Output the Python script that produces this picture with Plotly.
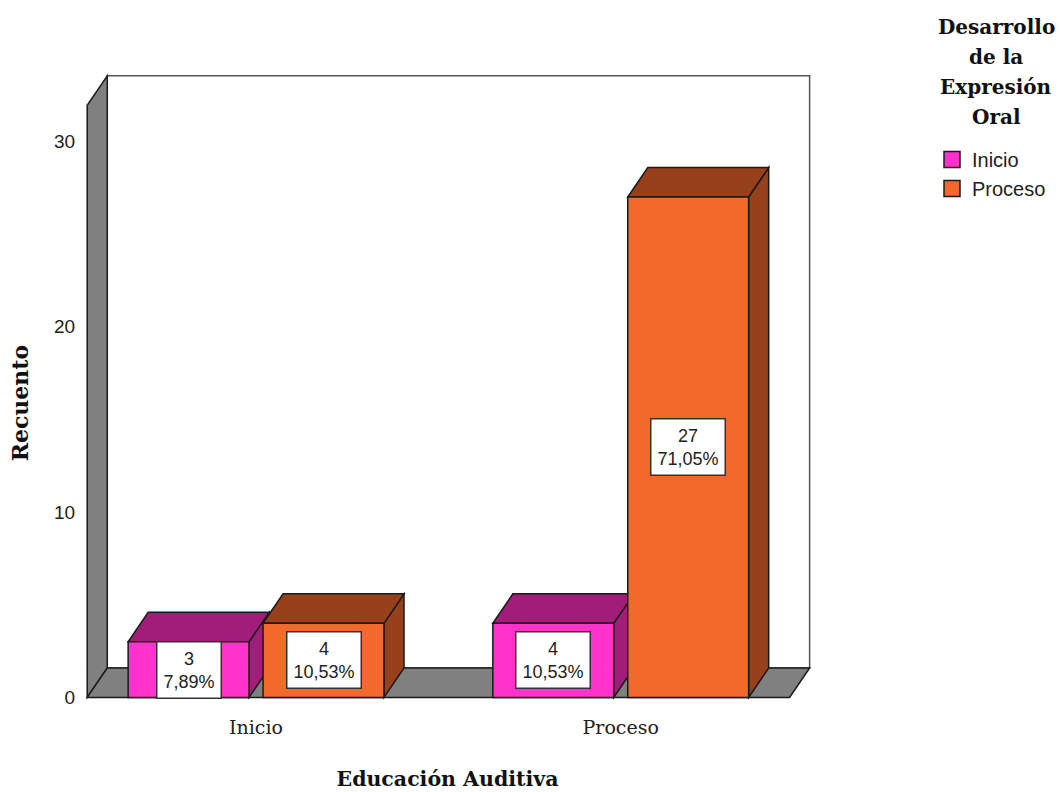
import plotly.graph_objects as go

# ---- data ----
categories = ["Inicio", "Proceso"]            # Educación Auditiva
series_names = ["Inicio", "Proceso"]          # Desarrollo de la Expresión Oral
counts_inicio = [3, 4]
counts_proceso = [4, 27]
y_ticks = [0, 10, 20, 30]
legend_title_lines = ["Desarrollo", "de la", "Expresión", "Oral"]

# ---- style ----
front_colors = ["#FF33CC", "#F2692C"]
shade_colors = ["#A01E7A", "#96401C"]
edge = "#1a1a1a"
wall_fill = "#808080"
num_font = "Liberation Sans Narrow, Arial Narrow, Liberation Sans, sans-serif"
serif_font = "DejaVu Serif, serif"

series = [counts_inicio, counts_proceso]
total = sum(sum(s) for s in series)

bargap = 0.26
bargroupgap = 0.104
n_series = len(series)
slot = (1 - bargap) / n_series
half_w = slot * (1 - bargroupgap) / 2

dx, dy = 0.055, 1.59          # depth offset of the 3D frame (data units)
x_left, x_right = -0.463, 1.463
wall_top = 31.95

fig = go.Figure()
shapes = []

def poly(pts, fill, lw=1.5, color=edge):
    path = "M" + " L".join(f"{x},{y}" for x, y in pts) + " Z"
    return dict(type="path", xref="x", yref="y", path=path, fillcolor=fill,
                line=dict(color=color, width=lw), layer="below")

# back wall
shapes.append(poly([(x_left + dx, dy), (x_right + dx, dy), (x_right + dx, wall_top + dy),
                    (x_left + dx, wall_top + dy)], "white", 1.5, "#555"))
# left wall
shapes.append(poly([(x_left, 0), (x_left, wall_top), (x_left + dx, wall_top + dy),
                    (x_left + dx, dy)], wall_fill))
# floor
shapes.append(poly([(x_left, 0), (x_right, 0), (x_right + dx, dy), (x_left + dx, dy)], wall_fill))

x_pos = list(range(len(categories)))
annotations = []
for j, (name, vals) in enumerate(zip(series_names, series)):
    fig.add_trace(go.Bar(
        x=x_pos, y=vals, name=name, showlegend=False,
        marker=dict(color=front_colors[j], line=dict(color=edge, width=1.5)),
    ))
    for i, v in enumerate(vals):
        c = i + (j - (n_series - 1) / 2) * slot
        xl, xr = c - half_w, c + half_w
        # side face
        shapes.append(poly([(xr, 0), (xr, v), (xr + dx, v + dy), (xr + dx, dy)], shade_colors[j]))
        # top face
        shapes.append(poly([(xl, v), (xr, v), (xr + dx, v + dy), (xl + dx, v + dy)], shade_colors[j]))
        pct = f"{100 * v / total:.2f}".replace(".", ",")
        annotations.append(dict(
            x=c, y=v / 2, xref="x", yref="y", text=f"{v}<br>{pct}%", showarrow=False,
            font=dict(family=num_font, size=18, color="#222"),
            bgcolor="white", bordercolor="#333", borderwidth=1.5, borderpad=6,
        ))
    # legend entry
    fig.add_trace(go.Scatter(
        x=[None], y=[None], mode="markers", name=name,
        marker=dict(symbol="square", size=18, color=front_colors[j], line=dict(color=edge, width=1.5)),
    ))

# y axis title
annotations.append(dict(
    x=(20 - 81) / 733, y=15.87, xref="paper", yref="y", xanchor="center", yanchor="middle",
    text="<b>Recuento</b>", textangle=-90,
    showarrow=False, font=dict(family=serif_font, size=22, color="#111"),
))
# legend title lines
for k, line in enumerate(legend_title_lines):
    annotations.append(dict(
        x=(996 - 81) / 733, y=(703 - 27 - 30 * k) / 632, xref="paper", yref="paper",
        xanchor="center", yanchor="middle",
        text=f"<b>{line}</b>", showarrow=False, font=dict(family=serif_font, size=20, color="#111"),
    ))

fig.update_layout(
    width=1060, height=792,
    margin=dict(l=81, r=246, t=71, b=89, autoexpand=False),
    paper_bgcolor="white", plot_bgcolor="white",
    barmode="group", bargap=bargap, bargroupgap=bargroupgap,
    shapes=shapes, annotations=annotations,
    legend=dict(x=(932 - 81) / 733, y=(703 - 140) / 632, xanchor="left", yanchor="top",
                font=dict(family=num_font, size=20, color="#222"),
                bgcolor="rgba(0,0,0,0)", itemsizing="trace", itemwidth=30),
    xaxis=dict(range=[-0.48, 1.53], tickvals=x_pos, ticktext=categories,
               showgrid=False, zeroline=False, showline=False,
               ticks="outside", ticklen=7, tickcolor="rgba(0,0,0,0)",
               tickfont=dict(family=serif_font, size=19, color="#222"),
               title=dict(text="<b>Educación Auditiva</b>", standoff=34,
                          font=dict(family=serif_font, size=20.5, color="#111"))),
    yaxis=dict(range=[-0.3, 33.8], tickvals=y_ticks,
               showgrid=False, zeroline=False, showline=False,
               ticks="outside", ticklen=1, tickcolor="rgba(0,0,0,0)",
               tickfont=dict(family=num_font, size=19, color="#222")),
)

fig.write_html("out.html")
